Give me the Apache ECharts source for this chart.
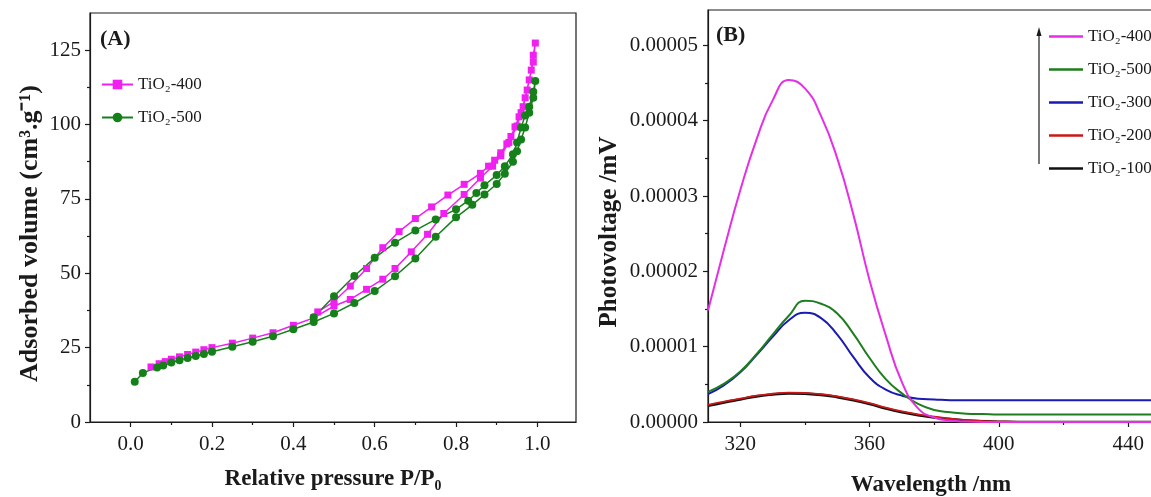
<!DOCTYPE html>
<html>
<head>
<meta charset="utf-8">
<script src="https://cdn.jsdelivr.net/npm/echarts@6/dist/echarts.min.js"></script>
<style>
  html, body { margin: 0; padding: 0; background: #fff; }
  #main { width: 1151px; height: 497px; }
</style>
</head>
<body>
<div id="main"></div>
<script>
// ---- (A) N2 isotherms: adsorption branch then desorption branch ----
var ads400P = [0.05, 0.07, 0.085, 0.1, 0.12, 0.14, 0.16, 0.18, 0.2, 0.25, 0.3, 0.35, 0.4, 0.45, 0.5, 0.54, 0.58, 0.62, 0.65, 0.69, 0.73, 0.77, 0.82, 0.86, 0.89, 0.91, 0.93, 0.95, 0.96, 0.97, 0.98, 0.99, 0.995];
var ads400V = [18.5, 19.6, 20.3, 21.1, 21.9, 22.7, 23.5, 24.3, 25, 26.5, 28.2, 30, 32.5, 35, 39, 41.2, 44.6, 48, 51.6, 57.2, 63.1, 70.1, 76.5, 82, 86, 89.5, 94, 99.5, 104, 109, 115, 121, 127.4];
var des400P = [0.99, 0.985, 0.975, 0.965, 0.955, 0.945, 0.935, 0.925, 0.91, 0.895, 0.88, 0.86, 0.82, 0.78, 0.74, 0.7, 0.66, 0.62, 0.58, 0.54, 0.5, 0.46];
var des400V = [123.3, 118.3, 111.6, 106, 102.6, 99.2, 96, 93.5, 90.5, 88, 86, 83.6, 79.9, 76.3, 72.3, 68.4, 64, 58.6, 51.6, 45.7, 40.5, 37];

var ads500P = [0.01, 0.03, 0.065, 0.08, 0.1, 0.12, 0.14, 0.16, 0.18, 0.2, 0.25, 0.3, 0.35, 0.4, 0.45, 0.5, 0.55, 0.6, 0.65, 0.7, 0.75, 0.8, 0.84, 0.87, 0.9, 0.92, 0.94, 0.95, 0.96, 0.97, 0.98, 0.99, 0.995];
var ads500V = [13.5, 16.5, 18.3, 19, 20, 20.8, 21.5, 22.2, 22.9, 23.6, 25.3, 27, 28.8, 31.2, 33.6, 36.5, 40, 44, 49, 55, 62.3, 68.8, 73, 76.5, 80, 83.5, 87.5, 91, 95, 99, 104, 109, 114.6];
var des500P = [0.99, 0.98, 0.97, 0.96, 0.95, 0.94, 0.92, 0.9, 0.87, 0.85, 0.83, 0.8, 0.75, 0.7, 0.65, 0.6, 0.55, 0.5, 0.45];
var des500V = [111, 106, 103, 99, 94, 90, 86, 83, 79.6, 77, 74.4, 71.5, 68.1, 64.4, 60.3, 55.2, 49.1, 42.3, 35.2];

var pressTicks = [0, 0.2, 0.4, 0.6, 0.8, 1.0];
var pressMinor = [0.1, 0.3, 0.5, 0.7, 0.9];
var volTicks = [0, 25, 50, 75, 100, 125];
var volMinor = [12.5, 37.5, 62.5, 87.5, 112.5];

// ---- (B) surface photovoltage spectra, values in 1e-5 mV ----
var wavelength = [310, 315, 320, 325, 330, 335, 340, 345, 350, 355, 360, 365, 370, 375, 380, 385, 390, 395, 400, 410, 420, 430, 440, 448];
var spv400 = [1.48, 2.30, 3.08, 3.75, 4.27, 4.54, 4.43, 4.06, 3.50, 2.75, 1.88, 1.15, 0.53, 0.18, 0.06, 0.02, 0.005, 0, 0, 0, 0, 0, 0, 0];
var spv500 = [0.40, 0.51, 0.67, 0.90, 1.16, 1.41, 1.61, 1.57, 1.44, 1.17, 0.85, 0.57, 0.38, 0.24, 0.16, 0.13, 0.11, 0.105, 0.1, 0.1, 0.1, 0.1, 0.1, 0.1];
var spv300 = [0.37, 0.49, 0.66, 0.89, 1.13, 1.35, 1.45, 1.38, 1.16, 0.86, 0.59, 0.43, 0.35, 0.31, 0.30, 0.29, 0.29, 0.29, 0.29, 0.29, 0.29, 0.29, 0.29, 0.29];
var spv200 = [0.226, 0.27, 0.31, 0.35, 0.375, 0.39, 0.385, 0.37, 0.34, 0.30, 0.25, 0.19, 0.14, 0.10, 0.07, 0.045, 0.025, 0.012, 0.005, 0, 0, 0, 0, 0];
var spv100 = [0.215, 0.26, 0.30, 0.34, 0.365, 0.38, 0.375, 0.36, 0.33, 0.29, 0.24, 0.18, 0.13, 0.09, 0.06, 0.038, 0.02, 0.01, 0.004, 0, 0, 0, 0, 0];

var waveTicks = [320, 360, 400, 440];
var waveMinor = [340, 380, 420];
var spvTicks = [0, 1, 2, 3, 4, 5];
var spvMinor = [0.5, 1.5, 2.5, 3.5, 4.5];

function pairs(xs, ys) {
  return xs.map(function (x, i) { return [x, ys[i]]; });
}

var font = 'Liberation Serif';
var ink = '#1a1a1a';

function mainAxis(grid, min, max, ticks, fmt, margin) {
  return {
    type: 'value', gridIndex: grid, min: min, max: max,
    axisLine: { show: true, onZero: false, lineStyle: { color: ink, width: 1.2 } },
    axisTick: { show: true, length: 5, customValues: ticks, lineStyle: { color: ink, width: 1.2 } },
    axisLabel: { customValues: ticks, formatter: fmt, margin: margin, color: ink, fontFamily: font, fontSize: 21 },
    splitLine: { show: false }
  };
}
function minorAxis(grid, min, max, ticks, pos) {
  return {
    type: 'value', gridIndex: grid, min: min, max: max, position: pos,
    axisLine: { show: false, onZero: false },
    axisTick: { show: true, length: 3, customValues: ticks, lineStyle: { color: ink, width: 1.2 } },
    axisLabel: { show: false },
    splitLine: { show: false }
  };
}

var chart = echarts.init(document.getElementById('main'));

var xA = mainAxis(0, -0.1, 1.095, pressTicks, function (v) { return v.toFixed(1); }, 12);
xA.position = 'bottom';
xA.name = 'Relative pressure P/P\u2080';
xA.nameLocation = 'middle';
xA.nameGap = 46;
xA.nameTextStyle = { fontFamily: font, fontSize: 23, fontWeight: 'bold', color: ink };

var yA = mainAxis(0, 0, 137.5, volTicks, function (v) { return String(v); }, 9);
yA.position = 'left';
yA.name = 'Adsorbed volume (cm\u00b3.g\u207b\u00b9)';
yA.nameLocation = 'middle';
yA.nameGap = 47;
yA.nameTextStyle = { fontFamily: font, fontSize: 26, fontWeight: 'bold', color: ink, padding: [0, 32, 0, 0] };

var xB = mainAxis(1, 310, 448, waveTicks, function (v) { return String(v); }, 12);
xB.position = 'bottom';
xB.name = 'Wavelength /nm';
xB.nameLocation = 'middle';
xB.nameGap = 52;
xB.nameTextStyle = { fontFamily: font, fontSize: 23, fontWeight: 'bold', color: ink };

var yB = mainAxis(1, 0, 5.47, spvTicks, function (v) { return (v / 1e5).toFixed(5); }, 10);
yB.position = 'left';
yB.name = 'Photovoltage /mV';
yB.nameLocation = 'middle';
yB.nameGap = 86;
yB.nameTextStyle = { fontFamily: font, fontSize: 25, fontWeight: 'bold', color: ink, padding: [0, 32, 0, 0] };

var magenta = '#f020f0';
var green = '#15801a';

function spvSeries(name, values, color, width) {
  return {
    name: name, type: 'line', xAxisIndex: 2, yAxisIndex: 2,
    data: pairs(wavelength, values), symbol: 'none', smooth: 0.5, color: color,
    lineStyle: { width: width, color: color }
  };
}

var option = {
  backgroundColor: '#fff',
  animation: false,
  title: [
    { text: '(A)', left: 95, top: 23, textStyle: { fontFamily: font, fontSize: 22, fontWeight: 'bold', color: ink } },
    { text: '(B)', left: 711, top: 19, textStyle: { fontFamily: font, fontSize: 22, fontWeight: 'bold', color: ink } }
  ],
  grid: [
    { left: 90, right: 575, top: 13, bottom: 75, outerBoundsMode: 'none', show: true, borderColor: ink, borderWidth: 1.2, backgroundColor: 'transparent' },
    { left: 708, right: -3, top: 10, bottom: 75, outerBoundsMode: 'none', show: true, borderColor: ink, borderWidth: 1.2, backgroundColor: 'transparent' }
  ],
  legend: [
    {
      data: ['TiO\u2082-400', 'TiO\u2082-500'],
      orient: 'vertical', left: 96, top: 71,
      itemWidth: 31, itemHeight: 12, itemGap: 16,
      textStyle: { fontFamily: font, fontSize: 17, color: ink }
    },
    {
      data: ['TiO\u2082-400 ', 'TiO\u2082-500 ', 'TiO\u2082-300', 'TiO\u2082-200', 'TiO\u2082-100'],
      orient: 'vertical', left: 1044, top: 23,
      icon: 'rect', itemWidth: 34, itemHeight: 2.5, itemGap: 16,
      textStyle: { fontFamily: font, fontSize: 17, color: ink }
    }
  ],
  xAxis: [
    xA,
    minorAxis(0, -0.1, 1.095, pressMinor, 'bottom'),
    xB,
    minorAxis(1, 310, 448, waveMinor, 'bottom')
  ],
  yAxis: [
    yA,
    minorAxis(0, 0, 137.5, volMinor, 'left'),
    yB,
    minorAxis(1, 0, 5.47, spvMinor, 'left')
  ],
  graphic: [
    { type: 'line', shape: { x1: 1039, y1: 164, x2: 1039, y2: 34 }, style: { stroke: ink, lineWidth: 1.2 } },
    { type: 'polygon', shape: { points: [[1036.5, 36], [1041.5, 36], [1039, 27]] }, style: { fill: ink } }
  ],
  series: [
    {
      name: 'TiO\u2082-400', type: 'line', xAxisIndex: 0, yAxisIndex: 0,
      data: pairs(ads400P, ads400V).concat(pairs(des400P, des400V)),
      symbol: 'rect', symbolSize: 7, color: magenta,
      lineStyle: { width: 1.5, color: magenta }
    },
    {
      name: 'TiO\u2082-500', type: 'line', xAxisIndex: 0, yAxisIndex: 0,
      data: pairs(ads500P, ads500V).concat(pairs(des500P, des500V)),
      symbol: 'circle', symbolSize: 8, color: green,
      lineStyle: { width: 1.5, color: green }
    },
    spvSeries('TiO\u2082-100', spv100, '#111111', 2.6),
    spvSeries('TiO\u2082-200', spv200, '#c81818', 1.8),
    spvSeries('TiO\u2082-300', spv300, '#1a1ab4', 2),
    spvSeries('TiO\u2082-500 ', spv500, '#1e7d1e', 2),
    spvSeries('TiO\u2082-400 ', spv400, '#e62ee6', 2)
  ]
};

chart.setOption(option);
</script>
</body>
</html>
